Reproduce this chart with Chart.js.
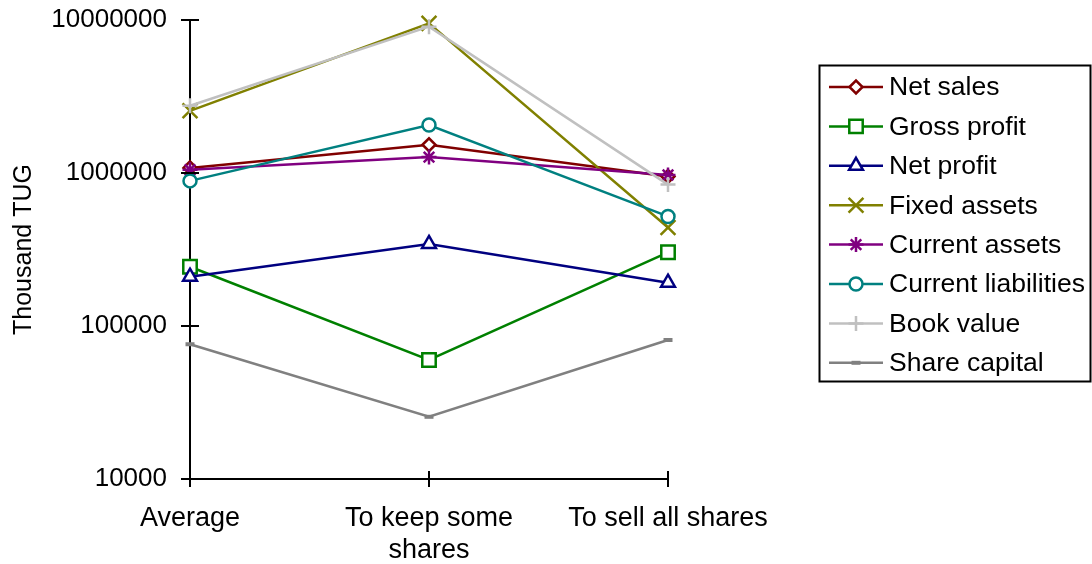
<!DOCTYPE html>
<html>
<head>
<meta charset="utf-8">
<script src="https://cdn.jsdelivr.net/npm/chart.js@4/dist/chart.umd.min.js"></script>
<style>
  html, body { margin: 0; padding: 0; background: #fff; }
  canvas { display: block; }
</style>
</head>
<body>
<canvas id="chart" width="1092" height="564"></canvas>
<script>
// ── data ──
const categories = ['Average', ['To keep some', 'shares'], 'To sell all shares'];
const yTicks = [10000, 100000, 1000000, 10000000];

const seriesNames = ['Net sales', 'Gross profit', 'Net profit', 'Fixed assets',
    'Current assets', 'Current liabilities', 'Book value', 'Share capital'];

const netSales = [1080000, 1530000, 950000];
const grossProfit = [244000, 60000, 303000];
const netProfit = [210000, 344000, 192000];
const fixedAssets = [2550000, 9500000, 440000];
const currentAssets = [1050000, 1270000, 970000];
const currentLiabilities = [888000, 2060000, 520000];
const bookValue = [2750000, 9050000, 840000];
const shareCapital = [76000, 25500, 81000];

const seriesValues = [netSales, grossProfit, netProfit, fixedAssets,
    currentAssets, currentLiabilities, bookValue, shareCapital];

// styles per series
const seriesStyles = [
    { color: '#800000', point: 'rectRot', radius: 6.5, fill: '#fff' },
    { color: '#008000', point: 'rect', radius: 9.5, fill: '#fff' },
    { color: '#000080', point: 'triangle', radius: 8, fill: '#fff' },
    { color: '#808000', point: 'crossRot', radius: 10.5, fill: '#808000' },
    { color: '#800080', point: 'star', radius: 7.5, fill: '#800080' },
    { color: '#008080', point: 'circle', radius: 6.5, fill: '#fff' },
    { color: '#c0c0c0', point: 'cross', radius: 7.5, fill: '#c0c0c0' },
    { color: '#808080', point: 'line', radius: 4.5, fill: '#808080', pw: 4 }
];

const FONT = "'Liberation Sans', Arial, sans-serif";
const LW = 2.5;

// ticks crossing the axis lines
const crossTicks = {
    id: 'crossTicks',
    afterDraw(chart) {
        const ctx = chart.ctx;
        const xs = chart.scales.x, ys = chart.scales.y;
        ctx.save();
        ctx.strokeStyle = '#000';
        ctx.lineWidth = 2;
        ctx.beginPath();
        xs.ticks.forEach((t, i) => {
            const x = Math.round(xs.getPixelForTick(i));
            ctx.moveTo(x, xs.top - 8);
            ctx.lineTo(x, xs.top + 8);
        });
        ys.ticks.forEach((t, i) => {
            const y = Math.round(ys.getPixelForTick(i));
            ctx.moveTo(ys.right - 9, y);
            ctx.lineTo(ys.right + 9, y);
        });
        ctx.stroke();
        ctx.restore();
    }
};

// legend box with line + marker samples
const boxLegend = {
    id: 'boxLegend',
    afterDraw(chart) {
        const ctx = chart.ctx;
        const left = 819, top = 65, w = 271, h = 316;
        ctx.save();
        ctx.strokeStyle = '#000';
        ctx.lineWidth = 2;
        ctx.strokeRect(left + 0.5, top + 0.5, w, h);
        ctx.font = '26.5px ' + FONT;
        ctx.textBaseline = 'middle';
        ctx.fillStyle = '#000';
        chart.data.datasets.forEach((ds, i) => {
            const y = 87 + i * 39.4;
            const st = seriesStyles[i];
            ctx.strokeStyle = st.color;
            ctx.lineWidth = LW;
            ctx.beginPath();
            ctx.moveTo(829, y);
            ctx.lineTo(883, y);
            ctx.stroke();
            ctx.lineWidth = st.pw || LW;
            ctx.fillStyle = st.fill;
            Chart.helpers.drawPoint(ctx, { pointStyle: st.point, radius: st.radius, borderWidth: st.pw || LW }, 856, y);
            ctx.fillStyle = '#000';
            ctx.fillText(ds.label, 889, y + 1);
        });
        ctx.restore();
    }
};

const datasets = seriesNames.map((name, i) => {
    const st = seriesStyles[i];
    return {
        label: name,
        data: seriesValues[i],
        borderColor: st.color,
        backgroundColor: st.fill,
        borderWidth: LW,
        pointStyle: st.point,
        pointRadius: st.radius,
        pointBorderWidth: st.pw || LW,
        pointBackgroundColor: st.fill,
        pointBorderColor: st.color,
        tension: 0,
        clip: false,
        order: seriesNames.length - i
    };
});

new Chart(document.getElementById('chart'), {
    type: 'line',
    data: { labels: categories, datasets },
    options: {
        responsive: false,
        animation: false,
        layout: { padding: { top: 20, right: 424, bottom: 0, left: 0 } },
        plugins: { legend: { display: false }, tooltip: { enabled: false } },
        scales: {
            x: {
                offset: false,
                grid: { display: false, drawTicks: false },
                border: { display: true, color: '#000', width: 2 },
                ticks: { color: '#000', padding: 23, maxRotation: 0, autoSkip: false,
                    font: { family: FONT, size: 27 } },
                afterFit: s => { s.height = 85; s.paddingLeft = 0; s.paddingRight = 0; }
            },
            y: {
                type: 'logarithmic',
                min: 10000,
                max: 10000000,
                grid: { display: false, drawTicks: false },
                border: { display: true, color: '#000', width: 2 },
                afterBuildTicks: s => { s.ticks = yTicks.map(v => ({ value: v })); },
                ticks: { color: '#000', padding: 23, font: { family: FONT, size: 26 },
                    callback: v => String(v) },
                title: { display: true, text: 'Thousand TUG', color: '#000',
                    padding: { top: 9, bottom: 0 }, font: { family: FONT, size: 25 } },
                afterFit: s => { s.width = 190; s.paddingTop = 0; s.paddingBottom = 0; }
            }
        }
    },
    plugins: [crossTicks, boxLegend]
});
</script>
</body>
</html>
